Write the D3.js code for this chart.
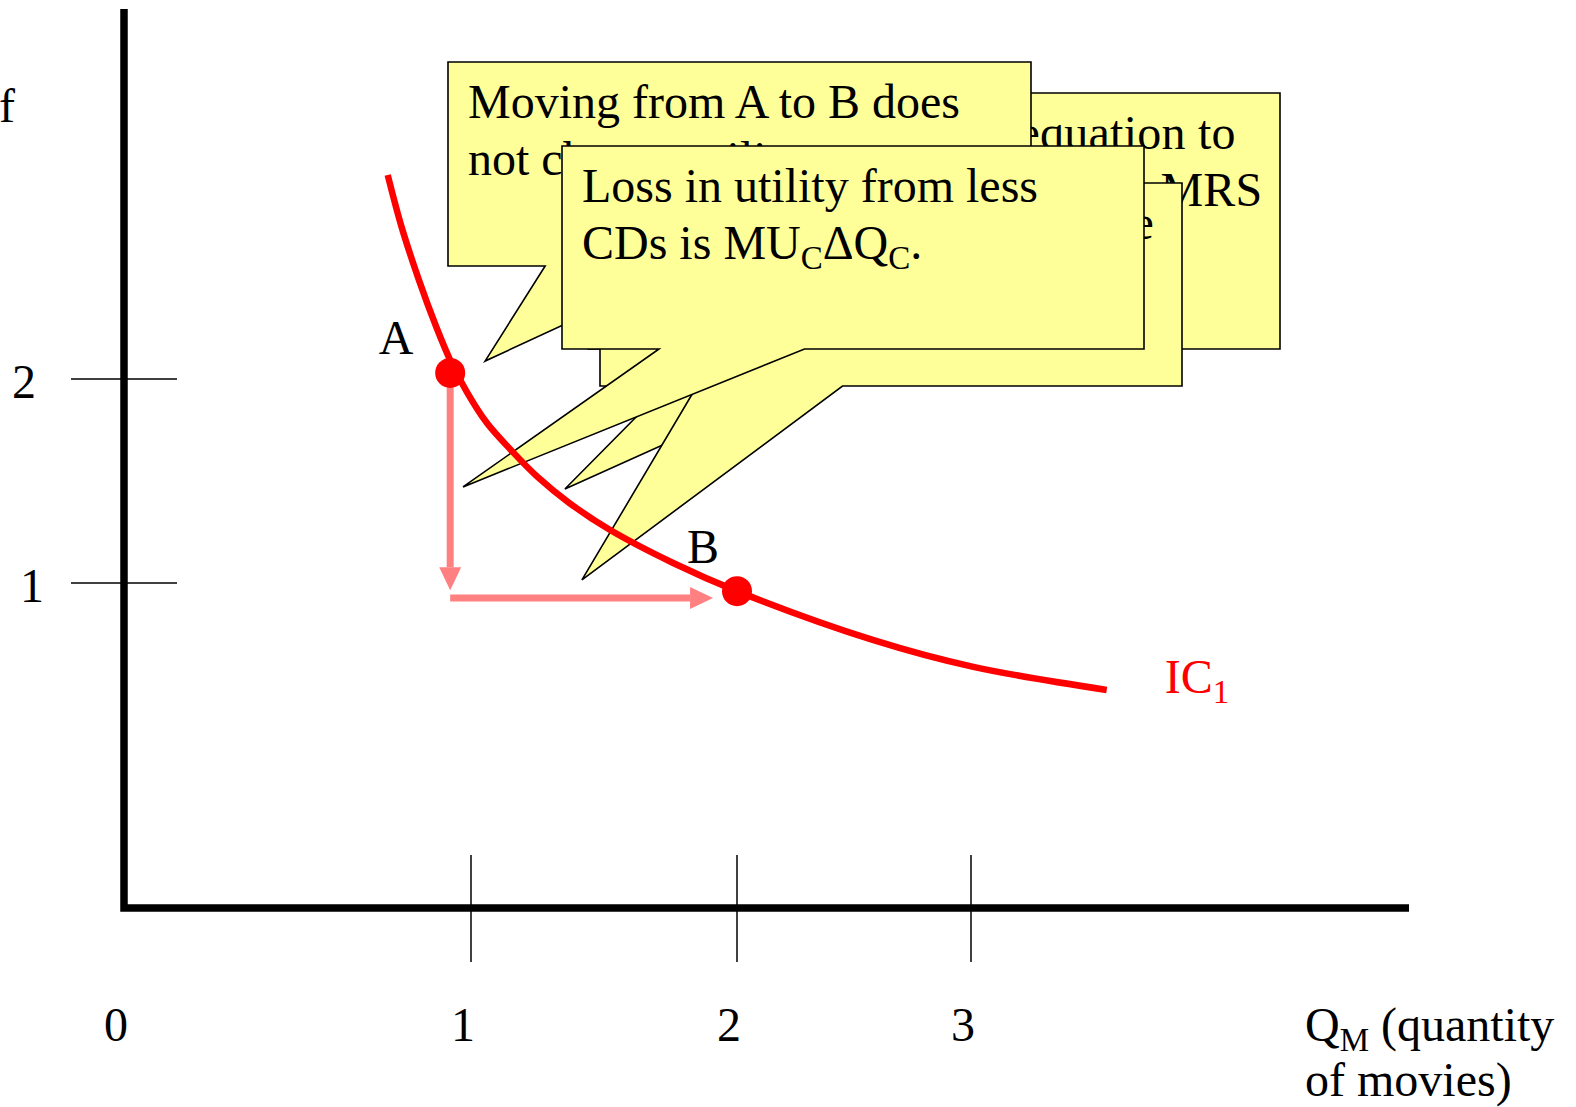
<!DOCTYPE html>
<html>
<head>
<meta charset="utf-8">
<script src="https://cdn.jsdelivr.net/npm/d3@7"></script>
<style>
  body { margin: 0; background: #fff; }
  svg { display: block; }
  text { font-family: "Liberation Serif", "Times New Roman", serif; }
</style>
</head>
<body>
<svg id="chart" width="1576" height="1107"></svg>
<script>
// ---- data ----------------------------------------------------------------
// Indifference curve IC1: quantity of movies (QM) vs quantity of CDs (QC)
const curveQm = [0.76, 0.80, 0.85, 0.90, 0.94, 0.99, 1.06, 1.15, 1.25, 1.37, 1.52, 1.76, 2.00, 2.58, 3.01, 3.58];
const curveQc = [3.00, 2.745, 2.485, 2.255, 2.093, 1.931, 1.784, 1.652, 1.52, 1.392, 1.262, 1.098, 0.975, 0.825, 0.742, 0.671];

// Bundles A and B on the curve
const bundleNames = ["A", "B"];
const bundleQm = [0.94, 2.00];
const bundleQc = [2.03, 0.975];

// Movement arrows: drop in CDs (ΔQC), then rise in movies (ΔQM)
const arrowFromQm = [0.94, 0.94];
const arrowFromQc = [2.03, 0.954];
const arrowToQm = [0.94, 1.91];
const arrowToQc = [0.978, 0.954];

// Axis ticks and labels
const xTickValues = [1, 2, 3];
const xTickLabels = ["0", "1", "2", "3"];
const yTickValues = [1, 2];
const yTickLabels = ["1", "2"];

// Callout notes: each line is a list of [text, "sub"?] pieces
const mrsNoteLines = [
  [["So we rearrange this equation to"]],
  [["derive an expression for the MRS"]],
  [["(the slope of IC"], ["1", "sub"], [")."]]
];
const noChangeNoteLines = [
  [["Moving from A to B does"]],
  [["not change utility."]]
];
const moviesNoteLines = [
  [["The rise in utility from more"]],
  [["movies is MU"], ["M", "sub"], ["ΔQ"], ["M", "sub"], ["."]]
];
const cdsNoteLines = [
  [["Loss in utility from less"]],
  [["CDs is MU"], ["C", "sub"], ["ΔQ"], ["C", "sub"], ["."]]
];
// Where each callout's pointer ends, in (QM, QC) units
const noteTipQm = [1.353, 1.053, 1.417, 0.977];
const noteTipQc = [1.461, 2.088, 1.015, 1.471];

// ---- layout --------------------------------------------------------------
const FONT = 48, SUB = 33, SUBDY = 10;
const svg = d3.select("#chart");

const x = d3.scaleLinear().domain([0, 1, 2, 3]).range([124, 471, 737, 971]);
const y = d3.scaleLinear().domain([0, 1, 2]).range([908, 583, 379]);

const x0 = x(0), y0 = y(0);

// ---- axes ----------------------------------------------------------------
const axes = svg.append("g");
axes.append("path")
  .attr("d", `M${x0},9 L${x0},${y0} L1409,${y0}`)
  .attr("fill", "none").attr("stroke", "#000").attr("stroke-width", 7.5)
  .attr("stroke-linejoin", "miter");

axes.selectAll(".xtick").data(xTickValues).join("line")
  .attr("x1", d => x(d)).attr("x2", d => x(d))
  .attr("y1", y0 - 53).attr("y2", y0 + 54)
  .attr("stroke", "#000").attr("stroke-width", 1.5);

axes.selectAll(".ytick").data(yTickValues).join("line")
  .attr("x1", x0 - 53).attr("x2", x0 + 53)
  .attr("y1", d => y(d)).attr("y2", d => y(d))
  .attr("stroke", "#000").attr("stroke-width", 1.5);

axes.selectAll(".xlab").data(xTickLabels).join("text")
  .attr("x", (d, i) => x(i) - 8).attr("y", 1041)
  .attr("text-anchor", "middle").attr("font-size", FONT)
  .text(d => d);

const yLabelX = [32, 24];
axes.selectAll(".ylab").data(yTickLabels).join("text")
  .attr("x", (d, i) => yLabelX[i]).attr("y", (d, i) => y(yTickValues[i]) + 19)
  .attr("text-anchor", "middle").attr("font-size", FONT)
  .text(d => d);

// helper: write pieces (with subscripts) into a text element
function writePieces(textSel, pieces) {
  let shifted = 0;
  pieces.forEach(([t, kind]) => {
    const isSub = kind === "sub";
    const target = isSub ? SUBDY : 0;
    textSel.append("tspan")
      .attr("dy", target - shifted)
      .attr("font-size", isSub ? SUB : FONT)
      .text(t);
    shifted = target;
  });
}

// y-axis title (runs off the left edge)
const yTitle = axes.append("text")
  .attr("x", 15).attr("y", 122).attr("text-anchor", "end");
writePieces(yTitle, [["Q"], ["C", "sub"], [" (quantity of"]]);

// x-axis title
const xTitle1 = axes.append("text").attr("x", 1305).attr("y", 1041);
writePieces(xTitle1, [["Q"], ["M", "sub"], [" (quantity"]]);
axes.append("text").attr("x", 1305).attr("y", 1096)
  .attr("font-size", FONT).text("of movies)");

// ---- callouts (back to front) -------------------------------------------
const notes = [
  { lines: mrsNoteLines,      box: [588, 93, 692, 256], spacing: 0.25 },
  { lines: noChangeNoteLines, box: [448, 62, 583, 204], spacing: 0 },
  { lines: moviesNoteLines,   box: [600, 183, 582, 203], spacing: -0.5 },
  { lines: cdsNoteLines,      box: [562, 146, 582, 203], spacing: 0 }
];

const notesG = svg.append("g");
notes.forEach((n, i) => {
  const [l, t, w, h] = n.box;
  const r = l + w, b = t + h;
  const bx1 = l + w / 6, bx2 = l + w * 5 / 12;
  const tx = x(noteTipQm[i]), ty = y(noteTipQc[i]);
  const g = notesG.append("g");
  g.append("path")
    .attr("d", `M${l},${t} L${r},${t} L${r},${b} L${bx2},${b} L${tx},${ty} L${bx1},${b} L${l},${b} Z`)
    .attr("fill", "#ffff99").attr("stroke", "#000").attr("stroke-width", 1.6)
    .attr("stroke-linejoin", "miter");
  n.lines.forEach((pieces, k) => {
    const txt = g.append("text").attr("x", l + 20).attr("y", t + 56 + k * 57)
      .attr("letter-spacing", n.spacing);
    writePieces(txt, pieces);
  });
});

// ---- indifference curve --------------------------------------------------
const curvePts = curveQm.map((q, i) => [x(q), y(curveQc[i])]);
svg.append("path")
  .attr("d", d3.line().curve(d3.curveCatmullRom.alpha(0.5))(curvePts))
  .attr("fill", "none").attr("stroke", "#ff0000").attr("stroke-width", 6.5);

const last = curvePts[curvePts.length - 1];
const icLab = svg.append("text")
  .attr("x", last[0] + 58).attr("y", last[1] + 3).attr("fill", "#ff0000");
writePieces(icLab, [["IC"], ["1", "sub"]]);

// ---- arrows --------------------------------------------------------------
const HEAD = 23, HALF = 11;
arrowFromQm.forEach((q, i) => {
  const xa = x(q), ya = y(arrowFromQc[i]);
  const xb = x(arrowToQm[i]), yb = y(arrowToQc[i]);
  const len = Math.hypot(xb - xa, yb - ya);
  const ux = (xb - xa) / len, uy = (yb - ya) / len;
  const bx = xb - ux * HEAD, by = yb - uy * HEAD;
  svg.append("line")
    .attr("x1", xa).attr("y1", ya).attr("x2", bx).attr("y2", by)
    .attr("stroke", "#ff8080").attr("stroke-width", 7);
  svg.append("path")
    .attr("d", `M${xb},${yb} L${bx - uy * HALF},${by + ux * HALF} L${bx + uy * HALF},${by - ux * HALF} Z`)
    .attr("fill", "#ff8080");
});

// ---- bundles -------------------------------------------------------------
svg.selectAll(".dot").data(bundleNames).join("circle")
  .attr("cx", (d, i) => x(bundleQm[i])).attr("cy", (d, i) => y(bundleQc[i]))
  .attr("r", 15).attr("fill", "#ff0000");

const labelDx = [-54, -34], labelDy = [-19, -28];
svg.selectAll(".blab").data(bundleNames).join("text")
  .attr("x", (d, i) => x(bundleQm[i]) + labelDx[i])
  .attr("y", (d, i) => y(bundleQc[i]) + labelDy[i])
  .attr("text-anchor", "middle").attr("font-size", FONT)
  .text(d => d);
</script>
</body>
</html>
